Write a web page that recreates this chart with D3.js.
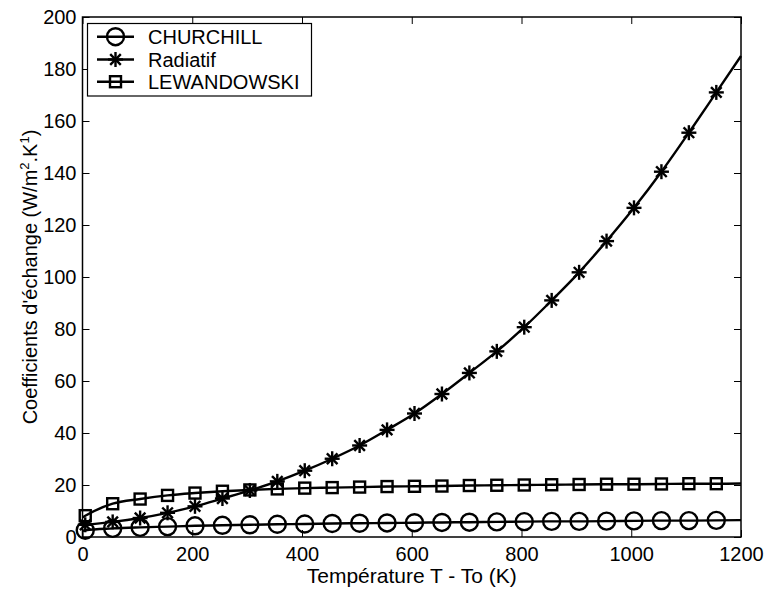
<!DOCTYPE html>
<html><head><meta charset="utf-8">
<script src="https://cdn.jsdelivr.net/npm/d3@7"></script>
<style>body{margin:0;background:#fff}svg{display:block}text{font-family:"Liberation Sans",Arial,Helvetica,sans-serif;fill:#000}</style>
</head><body>
<script>
// Data
const temps = [0,5,55,105,155,205,255,305,355,405,455,505,555,605,655,705,755,805,855,905,955,1005,1055,1105,1155,1200];
const markerTemps = [5,55,105,155,205,255,305,355,405,455,505,555,605,655,705,755,805,855,905,955,1005,1055,1105,1155];
const churchill = [2.4,2.6,3.3,3.7,4.0,4.3,4.5,4.7,4.9,5.0,5.2,5.3,5.4,5.5,5.6,5.7,5.8,5.9,6.0,6.0,6.1,6.2,6.3,6.3,6.4,6.5];
const radiatif = [4.6,4.7,5.8,7.3,9.3,11.8,14.8,17.9,21.4,25.5,30.1,35.2,41.2,47.5,55.0,63.1,71.4,80.7,91.0,101.8,113.8,126.6,140.5,155.5,171.0,185.0];
const lewandowski = [7.6,8.2,12.8,14.6,16.0,16.9,17.6,18.1,18.5,18.8,19.0,19.2,19.4,19.5,19.6,19.8,19.9,20.0,20.1,20.2,20.3,20.3,20.4,20.5,20.5,20.6];
const seriesNames = ["CHURCHILL","Radiatif","LEWANDOWSKI"];
const xTicks = [0,200,400,600,800,1000,1200];
const yTicks = [0,20,40,60,80,100,120,140,160,180,200];

const W = 766, H = 589;
const svg = d3.select("body").append("svg").attr("width", W).attr("height", H);
const x = d3.scaleLinear().domain([0,1200]).range([82.5, 741]);
const y = d3.scaleLinear().domain([0,200]).range([537, 17]);
const FS = 20, SW = 2.4;

// axes
const gx = svg.append("g").attr("transform", `translate(0,${y(0)})`)
  .call(d3.axisBottom(x).tickValues(xTicks).tickSize(-7).tickPadding(10).tickFormat(d3.format("d")));
const gxt = svg.append("g").attr("transform", `translate(0,${y(200)})`)
  .call(d3.axisTop(x).tickValues(xTicks).tickSize(-7).tickFormat(""));
const gy = svg.append("g").attr("transform", `translate(${x(0)},0)`)
  .call(d3.axisLeft(y).tickValues(yTicks).tickSize(-7).tickPadding(6).tickFormat(d3.format("d")));
const gyr = svg.append("g").attr("transform", `translate(${x(1200)},0)`)
  .call(d3.axisRight(y).tickValues(yTicks).tickSize(-7).tickFormat(""));
[gx,gxt,gy,gyr].forEach(g=>{
  g.select(".domain").remove();
  g.selectAll(".tick line").attr("stroke","#000").attr("stroke-width",1);
  g.selectAll(".tick text").attr("font-size",FS).attr("font-family","Liberation Sans, Arial, sans-serif").attr("fill","#000");
});
svg.append("rect").attr("x",x(0)).attr("y",y(200)).attr("width",x(1200)-x(0)).attr("height",y(0)-y(200))
  .attr("fill","none").attr("stroke","#000").attr("stroke-width",1.5);

// lines
const plot = svg.append("g");
const sets = [churchill, radiatif, lewandowski];
const line = d3.line().x((d,i)=>x(temps[i])).y(d=>y(d)).curve(d3.curveMonotoneX);
sets.forEach(s=>{
  plot.append("path").attr("d", line(s)).attr("fill","none").attr("stroke","#000").attr("stroke-width",SW);
});

function drawMarker(g, type, cx, cy){
  if(type===0){
    g.append("circle").attr("cx",cx).attr("cy",cy).attr("r",8.5).attr("fill","none").attr("stroke","#000").attr("stroke-width",SW);
  } else if(type===1){
    const r=7.5, d=r*0.7071;
    [[-r,0,r,0],[0,-r,0,r],[-d,-d,d,d],[-d,d,d,-d]].forEach(c=>{
      g.append("line").attr("x1",cx+c[0]).attr("y1",cy+c[1]).attr("x2",cx+c[2]).attr("y2",cy+c[3])
        .attr("stroke","#000").attr("stroke-width",SW);
    });
  } else {
    g.append("rect").attr("x",cx-5.5).attr("y",cy-5.5).attr("width",11).attr("height",11)
      .attr("fill","none").attr("stroke","#000").attr("stroke-width",SW);
  }
}
sets.forEach((s,k)=>{
  markerTemps.forEach(t=>{
    const i = temps.indexOf(t);
    drawMarker(plot, k, x(t), y(s[i]));
  });
});

// legend
const lg = svg.append("g");
lg.append("rect").attr("x",87.5).attr("y",23.5).attr("width",224).attr("height",72.5)
  .attr("fill","#fff").attr("stroke","#000").attr("stroke-width",1.2);
const rows = [36.7, 59.5, 81.7];
seriesNames.forEach((n,k)=>{
  lg.append("line").attr("x1",97).attr("x2",134).attr("y1",rows[k]).attr("y2",rows[k]).attr("stroke","#000").attr("stroke-width",SW);
  drawMarker(lg, k, 115.5, rows[k]);
  lg.append("text").attr("x",148).attr("y",rows[k]+7).attr("font-size",FS).text(n);
});

// axis titles
svg.append("text").attr("x",(x(0)+x(1200))/2).attr("y",583).attr("text-anchor","middle").attr("font-size",21)
  .text("Température T - To (K)");
const yl = svg.append("text").attr("transform",`translate(37,${(y(0)+y(200))/2}) rotate(-90)`).attr("text-anchor","middle").attr("font-size",20);
yl.append("tspan").text("Coefficients d'échange (W/m");
yl.append("tspan").attr("font-size",13).attr("dy",-8).text("2");
yl.append("tspan").attr("dy",8).text(".K");
yl.append("tspan").attr("font-size",13).attr("dy",-8).text("1");
yl.append("tspan").attr("dy",8).text(")");
</script>
</body></html>
